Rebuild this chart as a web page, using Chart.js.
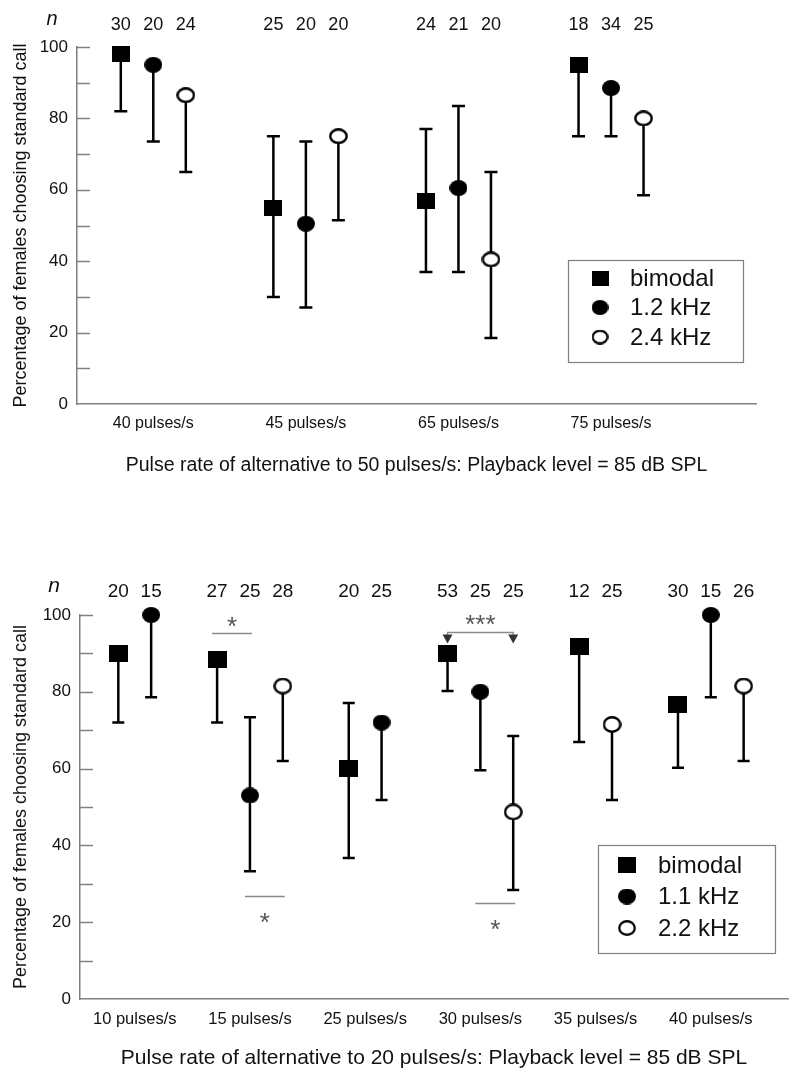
<!DOCTYPE html>
<html>
<head>
<meta charset="utf-8">
<script src="https://cdn.jsdelivr.net/npm/chart.js@4.4.1/dist/chart.umd.min.js"></script>
<style>
  body { margin: 0; background: #fff; }
  canvas { display: block; }
</style>
</head>
<body>
<canvas id="topChart" width="800" height="520"></canvas>
<canvas id="bottomChart" width="800" height="560"></canvas>
<script>
// top panel: alternatives to 50 pulses/s
const topGroups = ['40 pulses/s', '45 pulses/s', '65 pulses/s', '75 pulses/s'];
const topLabels = ['bimodal', '1.2 kHz', '2.4 kHz'];
const topBimodal = [98, 55, 57, 95];
const topBimodalLow = [82, 30, 37, 75];
const topBimodalHigh = [98, 75, 77, 95];
const topBimodalN = [30, 25, 24, 18];
const top12 = [95, 50.5, 60.5, 88.5];
const top12Low = [73.5, 27, 37, 75];
const top12High = [95, 73.5, 83.5, 88.5];
const top12N = [20, 20, 21, 34];
const top24 = [86.5, 75, 40.5, 80];
const top24Low = [65, 51.5, 18.5, 58.5];
const top24High = [86.5, 75, 65, 80];
const top24N = [24, 20, 20, 25];

// bottom panel: alternatives to 20 pulses/s (null = not tested)
const botGroups = ['10 pulses/s', '15 pulses/s', '25 pulses/s', '30 pulses/s', '35 pulses/s', '40 pulses/s'];
const botLabels = ['bimodal', '1.1 kHz', '2.2 kHz'];
const botBimodal = [90, 88.3, 60, 90, 91.7, 76.7];
const botBimodalLow = [72, 72, 36.7, 80.2, 66.9, 60.2];
const botBimodalHigh = [90, 88.3, 77.1, 90, 91.7, 76.7];
const botBimodalN = [20, 27, 20, 53, 12, 30];
const bot11 = [100, 53, 72, 80, null, 100];
const bot11Low = [78.6, 33.3, 51.8, 59.6, null, 78.6];
const bot11High = [100, 73.4, 72, 80, null, 100];
const bot11N = [15, 25, 25, 25, null, 15];
const bot22 = [null, 81.5, null, 48.7, 71.5, 81.5];
const bot22Low = [null, 62, null, 28.4, 51.8, 62];
const bot22High = [null, 81.5, null, 68.5, 71.5, 81.5];
const bot22N = [null, 28, null, 25, 25, 26];

// significance marks in the bottom panel (group index, from/to series index)
const botSig = [
    { group: 1, from: 0, to: 1, at: 95.3, text: '*', textAt: 98.8, arrows: false },
    { group: 1, from: 1, to: 2, at: 26.8, text: '*', textAt: 21.6, arrows: false },
    { group: 3, from: 0, to: 2, at: 95.6, text: '***', textAt: 99.2, arrows: true },
    { group: 3, from: 1, to: 2, at: 25, text: '*', textAt: 19.8, arrows: false }
];

const FONT = '"Liberation Sans", Arial, Helvetica, sans-serif';
Chart.defaults.font.family = FONT;
Chart.defaults.color = '#111';

function marker(shape, w, h, filled) {
    const c = document.createElement('canvas');
    c.width = w;
    c.height = h;
    const g = c.getContext('2d');
    g.fillStyle = '#000';
    if (shape === 'square') {
        g.fillRect(0, 0, w, h);
    } else if (filled) {
        g.beginPath();
        g.ellipse(w / 2, h / 2, w / 2, h / 2, 0, 0, Math.PI * 2);
        g.fill();
    } else {
        g.beginPath();
        g.ellipse(w / 2, h / 2, w / 2 - 1.3, h / 2 - 1.3, 0, 0, Math.PI * 2);
        g.fillStyle = '#fff';
        g.fill();
        g.lineWidth = 2.4;
        g.strokeStyle = '#000';
        g.stroke();
    }
    return c;
}

// points of one series; series missing in a group close up around the group centre
function buildPoints(series, s, spacing) {
    const pts = [];
    series[s].values.forEach((v, i) => {
        if (v === null) return;
        const present = series.map((ser, k) => ser.values[i] !== null ? k : -1).filter(k => k >= 0);
        const rank = present.indexOf(s);
        pts.push({
            x: i + 1 + (rank - (present.length - 1) / 2) * spacing,
            y: v,
            low: series[s].low[i],
            high: series[s].high[i],
            n: series[s].n[i],
            g: i
        });
    });
    return pts;
}

const errorBars = {
    id: 'errorBars',
    beforeDatasetsDraw(chart, args, opts) {
        const ctx = chart.ctx;
        const y = chart.scales.y;
        ctx.save();
        ctx.strokeStyle = '#000';
        ctx.lineWidth = opts.width;
        chart.data.datasets.forEach((ds, d) => {
            const meta = chart.getDatasetMeta(d);
            ds.data.forEach((p, i) => {
                const px = meta.data[i].x;
                const yl = y.getPixelForValue(p.low);
                const yh = y.getPixelForValue(p.high);
                ctx.beginPath();
                ctx.moveTo(px, yh);
                ctx.lineTo(px, yl);
                if (p.low < p.y) {
                    ctx.moveTo(px - opts.cap / 2, yl);
                    ctx.lineTo(px + opts.cap / 2, yl);
                }
                if (p.high > p.y) {
                    ctx.moveTo(px - opts.cap / 2, yh);
                    ctx.lineTo(px + opts.cap / 2, yh);
                }
                ctx.stroke();
            });
        });
        ctx.restore();
    }
};

// tick marks pointing into the plot
const innerTicks = {
    id: 'innerTicks',
    afterDraw(chart, args, opts) {
        const ctx = chart.ctx;
        const y = chart.scales.y;
        const left = chart.chartArea.left;
        ctx.save();
        ctx.strokeStyle = '#808080';
        ctx.lineWidth = 1.5;
        y.ticks.forEach(t => {
            if (t.value === 0) return;
            const py = Math.round(y.getPixelForValue(t.value)) + 0.5;
            ctx.beginPath();
            ctx.moveTo(left, py);
            ctx.lineTo(left + opts.length, py);
            ctx.stroke();
        });
        ctx.restore();
    }
};

const sampleSizes = {
    id: 'sampleSizes',
    afterDatasetsDraw(chart, args, opts) {
        const ctx = chart.ctx;
        const yText = chart.chartArea.top - opts.offset;
        ctx.save();
        ctx.fillStyle = '#111';
        ctx.textAlign = 'center';
        ctx.textBaseline = 'middle';
        ctx.font = opts.size + 'px ' + FONT;
        chart.data.datasets.forEach((ds, d) => {
            const meta = chart.getDatasetMeta(d);
            ds.data.forEach((p, i) => ctx.fillText(String(p.n), meta.data[i].x, yText));
        });
        ctx.font = 'italic ' + (opts.size + 2) + 'px ' + FONT;
        ctx.fillText('n', opts.nX, yText - opts.nRaise);
        ctx.restore();
    }
};

const boxLegend = {
    id: 'boxLegend',
    afterDraw(chart, args, opts) {
        const ctx = chart.ctx;
        const a = chart.chartArea;
        const x0 = a.right - opts.right - opts.width;
        const y0 = a.bottom - opts.bottom - opts.height;
        ctx.save();
        ctx.strokeStyle = '#808080';
        ctx.lineWidth = 1.2;
        ctx.strokeRect(Math.round(x0) + 0.5, Math.round(y0) + 0.5, opts.width, opts.height);
        ctx.fillStyle = '#111';
        ctx.font = opts.size + 'px ' + FONT;
        ctx.textAlign = 'left';
        ctx.textBaseline = 'middle';
        chart.data.datasets.forEach((ds, d) => {
            const cy = y0 + opts.firstRow + d * opts.rowGap;
            ctx.drawImage(ds.pointStyle, x0 + opts.markerX - opts.mw / 2, cy - opts.mh / 2, opts.mw, opts.mh);
            ctx.fillText(ds.label, x0 + opts.textX, cy + 1);
        });
        ctx.restore();
    }
};

const sigMarks = {
    id: 'sigMarks',
    afterDatasetsDraw(chart, args, opts) {
        if (!opts.items) return;
        const ctx = chart.ctx;
        const y = chart.scales.y;
        const xOf = (s, g) => {
            const meta = chart.getDatasetMeta(s);
            const i = chart.data.datasets[s].data.findIndex(p => p.g === g);
            return meta.data[i].x;
        };
        ctx.save();
        opts.items.forEach(m => {
            const x1 = xOf(m.from, m.group);
            const x2 = xOf(m.to, m.group);
            const py = Math.round(y.getPixelForValue(m.at)) + 0.5;
            ctx.strokeStyle = '#8a8a8a';
            ctx.lineWidth = 1.3;
            ctx.beginPath();
            if (m.arrows) {
                ctx.moveTo(x1, py + 4);
                ctx.lineTo(x1, py);
                ctx.lineTo(x2, py);
                ctx.lineTo(x2, py + 4);
                ctx.stroke();
                ctx.fillStyle = '#333';
                [x1, x2].forEach(xa => {
                    ctx.beginPath();
                    ctx.moveTo(xa - 5, py + 2);
                    ctx.lineTo(xa + 5, py + 2);
                    ctx.lineTo(xa, py + 11);
                    ctx.closePath();
                    ctx.fill();
                });
            } else {
                ctx.moveTo(x1 - 5, py);
                ctx.lineTo(x2 + 2, py);
                ctx.stroke();
            }
            ctx.fillStyle = '#555';
            ctx.font = opts.size + 'px ' + FONT;
            ctx.textAlign = 'center';
            ctx.textBaseline = 'alphabetic';
            const mid = m.arrows ? (x1 + x2) / 2 : (x1 - 5 + x2 + 2) / 2;
            ctx.fillText(m.text, mid, y.getPixelForValue(m.textAt) + opts.size * 0.58);
        });
        ctx.restore();
    }
};

function panel(canvasId, cfg) {
    const series = cfg.series;
    const datasets = series.map((ser, s) => ({
        label: cfg.labels[s],
        data: buildPoints(series, s, cfg.spacing),
        pointStyle: cfg.markers[s],
        pointRadius: 9,
        showLine: false,
        clip: false
    }));
    return new Chart(document.getElementById(canvasId), {
        type: 'scatter',
        data: { datasets: datasets },
        plugins: [errorBars, innerTicks, sampleSizes, boxLegend, sigMarks],
        options: {
            responsive: false,
            animation: false,
            events: [],
            layout: { padding: { top: cfg.top, right: cfg.right, left: 0, bottom: 0 } },
            plugins: {
                legend: { display: false },
                tooltip: { enabled: false },
                errorBars: { width: 2.5, cap: cfg.cap },
                innerTicks: { length: 13 },
                sampleSizes: { size: cfg.nSize, offset: cfg.nOffset, nX: cfg.nX, nRaise: 6 },
                boxLegend: cfg.legend,
                sigMarks: { items: cfg.sig, size: 26 }
            },
            scales: {
                x: {
                    type: 'linear',
                    min: cfg.xMin,
                    max: cfg.xMax,
                    afterFit: sc => { sc.height = cfg.xAxisHeight; },
                    afterBuildTicks: sc => { sc.ticks = cfg.groups.map((g, i) => ({ value: i + 1 })); },
                    grid: { display: true, drawOnChartArea: false, drawTicks: false },
                    border: { display: true, color: '#808080', width: 1.5 },
                    ticks: {
                        autoSkip: false,
                        maxRotation: 0,
                        padding: cfg.xTickPad,
                        color: '#111',
                        font: { size: cfg.xTickSize },
                        callback: (v, i) => cfg.groups[i]
                    },
                    title: {
                        display: true,
                        text: cfg.xTitle,
                        color: '#111',
                        font: { size: cfg.xTitleSize },
                        padding: { top: 0, bottom: cfg.xTitlePad }
                    }
                },
                y: {
                    min: 0,
                    max: 100,
                    afterFit: sc => { sc.width = cfg.yAxisWidth; },
                    grid: { display: true, drawOnChartArea: false, drawTicks: false },
                    border: { display: true, color: '#808080', width: 1.5 },
                    ticks: {
                        stepSize: 10,
                        padding: 9,
                        color: '#111',
                        font: { size: 17 },
                        callback: v => (v % 20 === 0 ? v : '')
                    },
                    title: {
                        display: true,
                        text: 'Percentage of females choosing standard call',
                        color: '#111',
                        font: { size: 18 },
                        padding: { top: 10, bottom: 0 }
                    }
                }
            }
        }
    });
}

panel('topChart', {
    groups: topGroups,
    labels: topLabels,
    series: [
        { values: topBimodal, low: topBimodalLow, high: topBimodalHigh, n: topBimodalN },
        { values: top12, low: top12Low, high: top12High, n: top12N },
        { values: top24, low: top24Low, high: top24High, n: top24N }
    ],
    markers: [marker('square', 18, 16, true), marker('circle', 18, 16, true), marker('circle', 19, 16, false)],
    spacing: 0.213,
    xMin: 0.5,
    xMax: 4.95,
    top: 47,
    right: 44,
    yAxisWidth: 77,
    xAxisHeight: 116,
    xTickPad: 10,
    xTickSize: 16,
    xTitle: 'Pulse rate of alternative to 50 pulses/s: Playback level = 85 dB SPL',
    xTitleSize: 19.5,
    xTitlePad: 43,
    cap: 13,
    nSize: 18,
    nOffset: 22,
    nX: 52,
    legend: { right: 13, bottom: 42, width: 175, height: 102, markerX: 32, textX: 62, firstRow: 18, rowGap: 29.5, mw: 17, mh: 15, size: 24 },
    sig: null
});

panel('bottomChart', {
    groups: botGroups,
    labels: botLabels,
    series: [
        { values: botBimodal, low: botBimodalLow, high: botBimodalHigh, n: botBimodalN },
        { values: bot11, low: bot11Low, high: bot11High, n: bot11N },
        { values: bot22, low: bot22Low, high: bot22High, n: bot22N }
    ],
    markers: [marker('square', 19, 17, true), marker('circle', 18, 16, true), marker('circle', 19, 17, false)],
    spacing: 0.285,
    xMin: 0.525,
    xMax: 6.67,
    top: 95,
    right: 12,
    yAxisWidth: 80,
    xAxisHeight: 81,
    xTickPad: 11,
    xTickSize: 16.5,
    xTitle: 'Pulse rate of alternative to 20 pulses/s: Playback level = 85 dB SPL',
    xTitleSize: 21,
    xTitlePad: 9,
    cap: 12,
    nSize: 19,
    nOffset: 23,
    nX: 54,
    legend: { right: 13, bottom: 46, width: 177, height: 108, markerX: 29, textX: 60, firstRow: 20, rowGap: 31.5, mw: 18, mh: 16, size: 24 },
    sig: botSig
});
</script>
</body>
</html>
